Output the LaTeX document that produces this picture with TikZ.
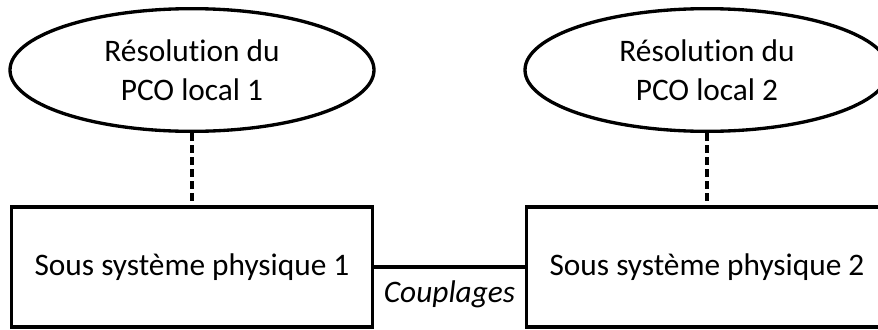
\documentclass[tikz,border=0pt]{standalone}
\usepackage{fontspec}
\setmainfont[Ligatures=NoCommon]{Carlito}
\usetikzlibrary{shapes.geometric}
\tikzset{
  pco/.style={draw,line width=2.5pt,ellipse,minimum width=273pt,minimum height=92pt,align=center,inner sep=0pt},
  sousys/.style={draw,line width=2.5pt,rectangle,minimum width=271pt,minimum height=90pt,inner sep=0pt},
  lien/.style={line width=2.5pt,dash pattern=on 6pt off 3pt},
}
\begin{document}
\begin{tikzpicture}[x=0.75pt,y=-0.75pt,font=\fontsize{23.5}{29}\selectfont]
                \useasboundingbox (0,0) rectangle (878,329);
                \clip (0,0) rectangle (878,329);
                \fill[white] (0,0) rectangle (878,329);
                \node[pco] (pco1) at (192,70) {Résolution du\\PCO local 1};
                \node[pco] (pco2) at (707,70) {Résolution du\\PCO local 2};
                \node[sousys] (sys1) at (192,267) {Sous système physique 1};
                \node[sousys] (sys2) at (707,267) {Sous système physique 2};
                \draw[lien] (pco1) -- (sys1);
                \draw[lien] (pco2) -- (sys2);
                \draw[line width=2.5pt] (sys1) -- (sys2) node[midway,below=6pt] {\itshape Couplages};
            \end{tikzpicture}
\end{document}
